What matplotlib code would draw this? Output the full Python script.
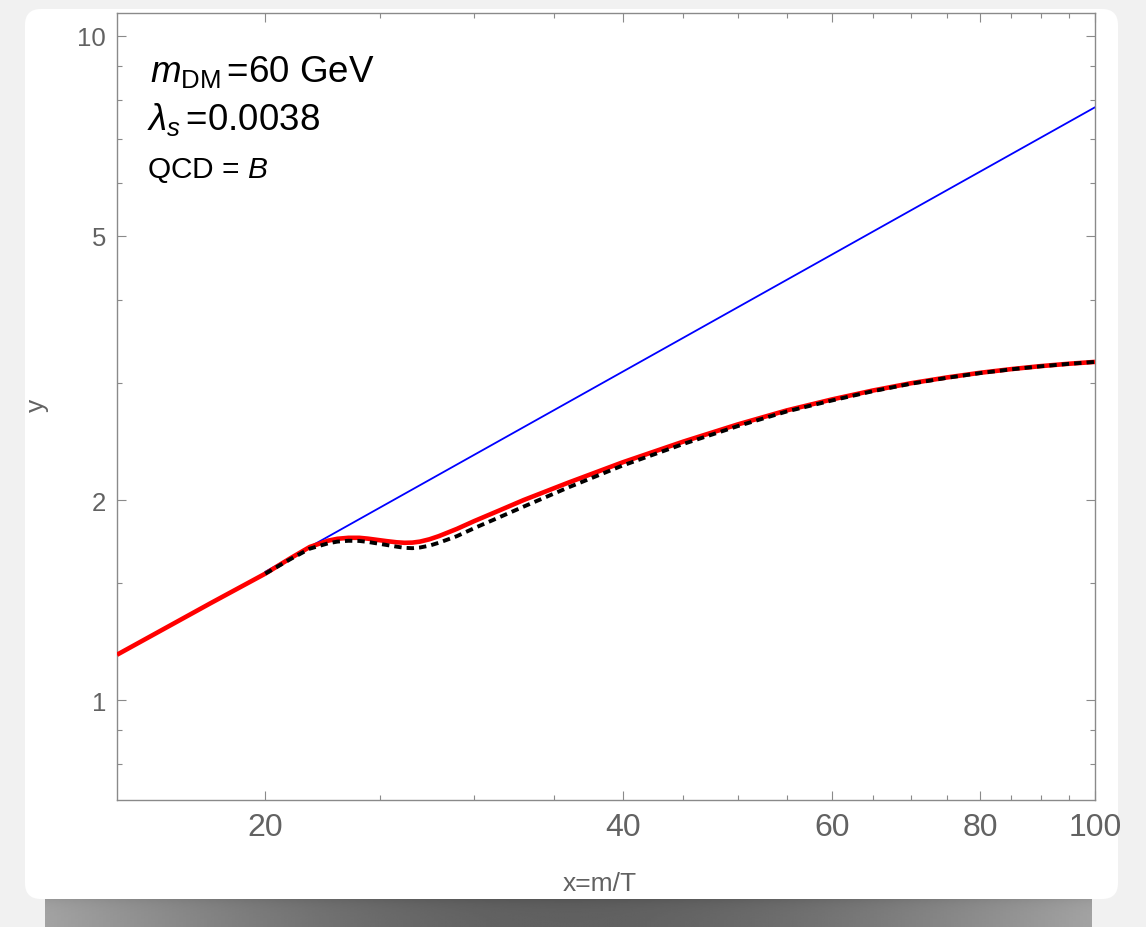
import matplotlib
matplotlib.use("Agg")
import matplotlib.pyplot as plt
from matplotlib.patches import FancyBboxPatch
from matplotlib.ticker import FixedLocator, NullFormatter
import numpy as np

plt.rcParams['font.family'] = ['Liberation Sans', 'DejaVu Sans']
plt.rcParams['mathtext.fontset'] = 'custom'
plt.rcParams['mathtext.rm'] = 'Liberation Sans'
plt.rcParams['mathtext.it'] = 'Liberation Sans:italic'

# full solution (red), approximation (black dashed), linear growth (blue)
x_red = [15, 18, 20, 21, 21.8, 22.6, 23.0, 23.5, 24.0, 24.4, 25.3, 25.8,
         26.2, 26.6, 27, 27.5, 28, 29, 30, 31.5, 33, 36, 40, 45, 50, 55,
         60, 65, 70, 75, 80, 85, 90, 95, 100]
y_red = [1.17, 1.40, 1.55, 1.635, 1.70, 1.738, 1.749, 1.755, 1.755, 1.75,
         1.735, 1.728, 1.725, 1.726, 1.732, 1.746, 1.765, 1.81, 1.86, 1.93,
         2.0, 2.125, 2.28, 2.45, 2.60, 2.73, 2.835, 2.925, 3.0, 3.06, 3.11,
         3.15, 3.183, 3.209, 3.23]

x_blk = [20, 21, 21.8, 22.6, 23.0, 23.5, 24.0, 24.4, 25.3, 25.8, 26.2,
         26.6, 27, 27.5, 28, 29, 30, 31.5, 33, 36, 40, 45, 50, 55, 60, 65,
         70, 75, 80, 85, 90, 95, 100]
y_blk = [1.55, 1.63, 1.69, 1.722, 1.732, 1.737, 1.736, 1.73, 1.712, 1.702,
         1.695, 1.693, 1.697, 1.708, 1.725, 1.765, 1.815, 1.885, 1.955,
         2.09, 2.255, 2.43, 2.585, 2.72, 2.825, 2.918, 2.995, 3.056, 3.107,
         3.148, 3.181, 3.208, 3.23]

x_blue = [20, 100]
y_blue = [1.56, 7.81]

x_major = [20, 40, 60, 80, 100]
x_minor = [25, 30, 35, 45, 50, 55, 65, 70, 75, 85, 90, 95]
y_major = [1, 2, 5, 10]
y_minor = [0.8, 0.9, 1.5, 3, 4, 6, 7, 8, 9]

W, H = 1146, 928
fig = plt.figure(figsize=(W / 100, H / 100), dpi=100)
fig.patch.set_facecolor('#f1f1f1')

# paper card with a shadow underneath
bg = fig.add_axes([0, 0, 1, 1])
bg.set_xlim(0, W)
bg.set_ylim(H, 0)
bg.axis('off')
bg.set_zorder(0)

sx0, sx1, sy0, sy1 = 45, 1092, 896, 928
t = np.linspace(0, 1, 300)
v = np.linspace(0, 1, 40)
shade = 0.64 - 0.26 * np.sin(np.pi * t)[None, :] - 0.08 * np.exp(-v * 5)[:, None]
bg.imshow(shade, cmap='gray', vmin=0, vmax=1, extent=(sx0, sx1, sy1, sy0),
          aspect='auto', interpolation='bilinear', zorder=1)
paper = FancyBboxPatch((25, 10), 1093, 890,
                       boxstyle='round,pad=0,rounding_size=16',
                       fc='white', ec='none', zorder=2)
bg.add_patch(paper)

ax = fig.add_axes([117 / W, 1 - 801 / H, (1095 - 117) / W, (801 - 14) / H])
ax.set_zorder(1)
ax.set_facecolor('white')

ax.plot(x_blue, y_blue, color='#0000ff', lw=1.3, zorder=2)
ax.plot(x_red, y_red, color='#ff0000', lw=3.3, zorder=3,
        solid_capstyle='butt', solid_joinstyle='round')
ax.plot(x_blk, y_blk, color='black', lw=2.8, zorder=4,
        dashes=(1.9, 1.3), dash_capstyle='butt')

ax.set_xscale('log')
ax.set_yscale('log')
ax.set_xlim(15, 100)
ax.set_ylim(0.707, 10.83)

grey = '#8a8a8a'
for s in ax.spines.values():
    s.set_color(grey)
    s.set_linewidth(1.0)

ax.xaxis.set_major_locator(FixedLocator(x_major))
ax.xaxis.set_minor_locator(FixedLocator(x_minor))
ax.yaxis.set_major_locator(FixedLocator(y_major))
ax.yaxis.set_minor_locator(FixedLocator(y_minor))
ax.set_xticklabels([str(v) for v in x_major])
ax.set_yticklabels([str(v) for v in y_major])
ax.xaxis.set_minor_formatter(NullFormatter())
ax.yaxis.set_minor_formatter(NullFormatter())

ax.tick_params(which='both', direction='in', top=True, right=True,
               color=grey, width=0.8, labelcolor='#626262')
ax.tick_params(which='major', length=6.5)
ax.tick_params(which='minor', length=3.6)
ax.tick_params(axis='x', which='major', labelsize=23, pad=9)
ax.tick_params(axis='y', which='major', labelsize=18.5, pad=8)

fig.text(600 / W, 1 - 891 / H, 'x=m/T', color='#626262', fontsize=19,
         ha='center', va='baseline')
fig.text(37 / W, 1 - 405 / H, 'y', color='#626262', fontsize=19,
         rotation=90, ha='center', va='center')

fig.text(150 / W, 1 - 82 / H, r'$m_{\mathrm{DM}}\,$=60 GeV', fontsize=26.5,
         ha='left', va='baseline')
fig.text(147 / W, 1 - 130 / H, r'$\lambda_s\,$=0.0038', fontsize=26.5,
         ha='left', va='baseline')
fig.text(147 / W, 1 - 178 / H, r'QCD = $B$', fontsize=21.5,
         ha='left', va='baseline')

fig.savefig('out.png', dpi=100, facecolor=fig.get_facecolor())
